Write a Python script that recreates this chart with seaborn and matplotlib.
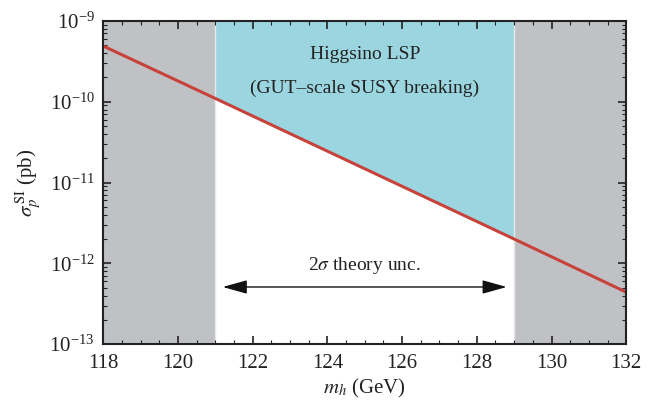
import numpy as np
import pandas as pd
import matplotlib
matplotlib.use("Agg")
import matplotlib.pyplot as plt
import seaborn as sns
from matplotlib.ticker import MultipleLocator, LogLocator, NullFormatter, FixedLocator

# Data
mh = [118, 121, 129, 132]
sigma_si = [4.9e-10, 1.1e-10, 2.0e-12, 4.4e-13]
excluded_low = [118, 121]
excluded_high = [129, 132]
allowed = [121, 129]
x_ticks = [118, 120, 122, 124, 126, 128, 130, 132]
y_ticks = [1e-13, 1e-12, 1e-11, 1e-10, 1e-9]

sns.set_theme(style="ticks")
plt.rcParams["font.family"] = ["Liberation Serif", "DejaVu Serif"]
plt.rcParams["mathtext.fontset"] = "stix"

fig = plt.figure(figsize=(6.53, 4.03), dpi=100)
ax = fig.add_axes([0.158, 0.146, 0.801, 0.802])

df = pd.DataFrame({"mh": mh, "sigma": sigma_si})
sel = df[(df.mh >= allowed[0]) & (df.mh <= allowed[1])]

ax.axvspan(*excluded_low, color="#c0c1c5", lw=0, zorder=0)
ax.axvspan(*excluded_high, color="#c0c1c5", lw=0, zorder=0)
ax.fill_between(sel.mh, sel.sigma, 1e-9, color="#9bd6e0", lw=0, zorder=0)
ax.axvline(excluded_high[0], color="#e8e8ea", lw=1, zorder=0.5)
ax.axvline(excluded_low[1], color="#e8e8ea", lw=1, zorder=0.5)

sns.lineplot(data=df, x="mh", y="sigma", ax=ax, color="#c8423c", lw=2.2, zorder=3)

ax.set_yscale("log")
ax.set_xlim(118, 132)
ax.set_ylim(1e-13, 1e-9)
ax.set_xticks(x_ticks)
ax.set_yticks(y_ticks)
ax.xaxis.set_minor_locator(MultipleLocator(0.5))
ax.yaxis.set_minor_locator(LogLocator(base=10, subs=np.arange(2, 10), numticks=20))
ax.yaxis.set_minor_formatter(NullFormatter())

ax.tick_params(which="both", direction="in", top=True, right=True, colors="#222222",
               labelcolor="#222222", labelsize=15)
ax.tick_params(axis="x", which="major", pad=7)
ax.tick_params(axis="y", which="major", pad=6)
ax.tick_params(which="major", length=6, width=1.2)
ax.tick_params(which="minor", length=3, width=0.8)
for s in ax.spines.values():
    s.set_linewidth(1.5)
    s.set_color("#222222")
    s.set_zorder(5)

ax.set_xlabel(r"$m_h$ (GeV)", fontsize=15, color="#222222", labelpad=3)
ax.set_ylabel(r"$\sigma_p^{\,\mathrm{SI}}$ (pb)", fontsize=15, color="#222222", labelpad=4)

ax.text(125, 3.8e-10, "Higgsino LSP", ha="center", va="center", fontsize=14, color="#222222")
ax.text(125, 1.45e-10, "(GUT–scale SUSY breaking)", ha="center", va="center", fontsize=14, color="#222222")
ax.text(125, 9.5e-13, r"2$\sigma$ theory unc.", ha="center", va="center", fontsize=14, color="#222222")
ax.annotate("", xy=(121.2, 5.1e-13), xytext=(128.8, 5.1e-13),
            arrowprops=dict(arrowstyle="<|-|>,head_length=1.0,head_width=0.28", color="#111111", lw=1.0,
                            mutation_scale=15, shrinkA=0, shrinkB=0))

fig.savefig("out.png", dpi=100)
